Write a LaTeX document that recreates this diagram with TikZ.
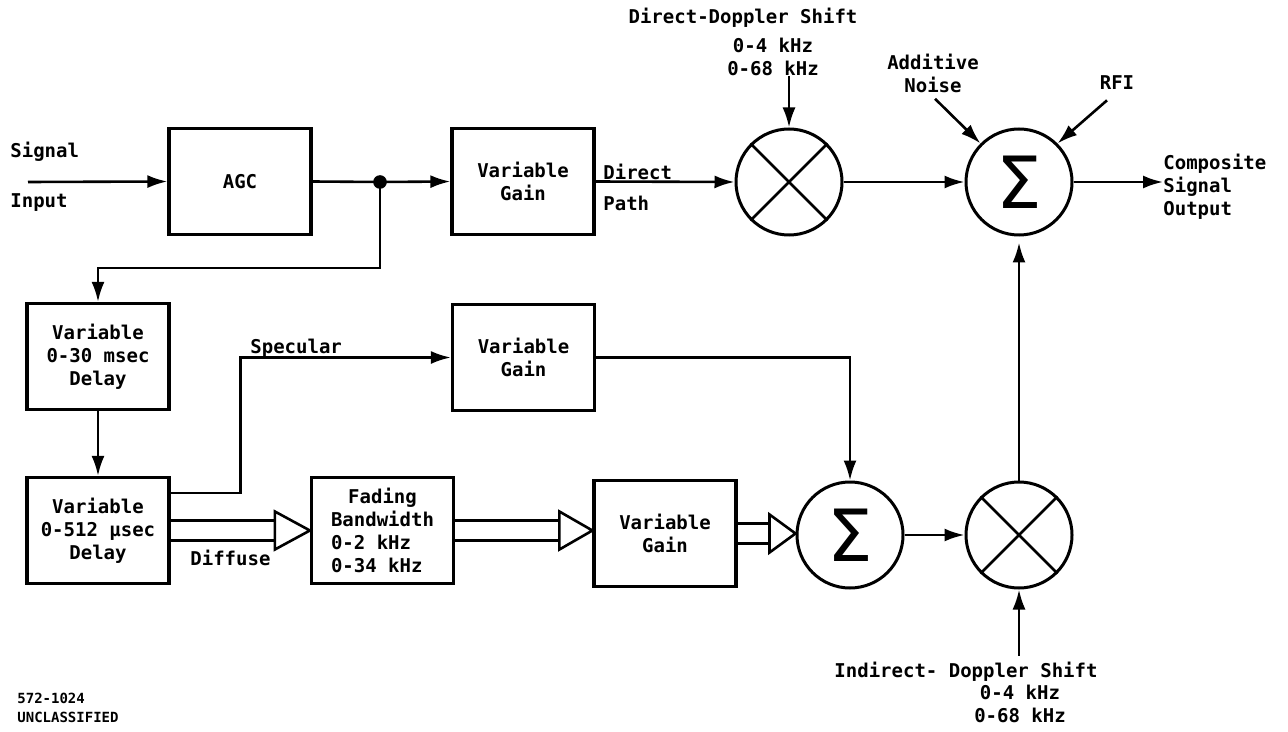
\documentclass[tikz,border=0pt]{standalone}
\usepackage{fontspec}
\usepackage{tikz}
\usetikzlibrary{positioning,arrows.meta,calc}
\newfontfamily\gothic{DejaVu Sans Mono}
\newfontfamily\sumfont{DejaVu Sans}
\newcommand{\lbl}{\gothic\bfseries\fontsize{9.5}{11.5}\selectfont}
\newcommand{\tinylbl}{\gothic\bfseries\fontsize{7}{9.5}\selectfont}
\definecolor{ink}{RGB}{0,0,0}
\tikzset{
  blk/.style={draw=ink, line width=1.6pt, minimum width=71pt, minimum height=53pt,
    align=center, font=\lbl, text=ink, inner sep=2pt},
  opc/.style={circle, draw=ink, line width=1.5pt, minimum size=53pt, inner sep=0pt,
    font=\sumfont\fontsize{36}{36}\selectfont, text=ink},
  sig/.style={-{Latex[length=10pt,width=6.5pt]}, line width=1.3pt, draw=ink},
  wire/.style={line width=1.3pt, draw=ink},
  tag/.style={font=\lbl, align=center, inner sep=0pt, text=ink},
}

\begin{document}
\begin{tikzpicture}[x=0.5pt, y=-0.5pt]
  \useasboundingbox (0,0) rectangle (1288,732);
  % top row
  \node[tag, anchor=west] (sigtxt) at (10,152) {Signal};
  \node[tag, anchor=west] (intxt) at (10,203) {Input};
  \coordinate (sin) at (28,182);
  \node[blk] (agc) at (240,181.5) {AGC};
  \coordinate (tap) at (380,182);
  \node[blk] (vga) at (523,181.5) {Variable\\Gain};
  \node[tag, anchor=west] (dirtxt) at (603,172) {Direct};
  \node[tag, anchor=west] (pathtxt) at (603,203) {Path};
  \node[opc] (mxa) at (789,182) {};
  \node[opc] (sga) at (1019,182) {Σ};
  \node[tag] (dshift) at (743,18) {Direct-Doppler Shift};
  \node[tag] (dfreq) at (773,57) {0-4 kHz\\0-68 kHz};
  \node[tag] (noise) at (933,73) {Additive\\Noise};
  \node[tag] (rfi) at (1117,83) {RFI};
  \node[tag, align=left, anchor=west] (outtxt) at (1163,187) {Composite\\Signal\\Output};
  % delay chain
  \node[blk] (dla) at (98,356.5) {Variable\\0-30 msec\\Delay};
  \node[blk] (dlb) at (98,530.5) {Variable\\0-512 μsec\\Delay};
  \node[blk] (vgb) at (523.5,357.5) {Variable\\Gain};
  \node[tag, anchor=west] (spectxt) at (250,348) {Specular};
  \node[tag, anchor=west] (difftxt) at (190,558) {Diffuse};
  \node[blk] (fad) at (382.5,530.5) {Fading\\Bandwidth\\0-2 kHz\phantom{00}\\0-34 kHz\phantom{0}};
  \node[blk] (vgc) at (665,533.5) {Variable\\Gain};
  \node[opc] (sgb) at (850,535) {Σ};
  \node[opc] (mxb) at (1019,535) {};
  \node[tag] (ishift) at (966,672) {Indirect- Doppler Shift};
  \node[tag] (ifreq) at (1020,704) {0-4 kHz\\0-68 kHz};
  \node[font=\tinylbl, align=left, anchor=west, inner sep=0pt] (docno) at (17,708) {572-1024\\UNCLASSIFIED};

  \foreach \m in {mxa,mxb}
    \draw[wire] (\m.north west) -- (\m.south east) (\m.north east) -- (\m.south west);

  \draw[sig] (sin) -- (agc.west);
  \draw[wire] (agc.east) -- (tap);
  \fill[ink] (tap) circle (3.4pt);
  \draw[sig] (tap) -- (vga.west);
  \draw[sig] (vga.east) -- (mxa.west);
  \draw[sig] (mxa.east) -- (sga.west);
  \draw[sig] (sga.east) -- (sga.east -| outtxt.west);
  \draw[sig] (dfreq.south -| mxa.north) -- (mxa.north);
  \draw[sig] ($(noise.south)+(2,6)$) -- (sga.north west);
  \draw[sig] ($(rfi.south)+(-10,10)$) -- (sga.north east);

  \draw[sig] (tap) |- ($(dla.north)+(0,-34)$) -- (dla.north);
  \draw[sig] (dla.south) -- (dlb.north);
  \draw[sig] ($(dlb.north east)+(0,17)$) -- ++(70,0) |- (vgb.west);
  \draw[sig] (vgb.east) -| (sgb.north);
  \draw[sig] (sgb.east) -- (mxb.west);
  \draw[sig, shorten >=3pt] (mxb.north) -- (sga.south);
  \draw[sig] ($(ishift.north -| mxb.south)+(0,-6)$) -- (mxb.south);

  % double paths with open heads
  \foreach \s/\t/\l in {dlb/fad/35, fad/vgc/33, vgc/sgb/26} {
    \coordinate (hp) at (\s.east -| \t.west);
    \draw[wire] ($(\s.east)+(0,-10)$) -- ($(hp)+(-\l,-10)$)
                ($(\s.east)+(0,10)$) -- ($(hp)+(-\l,10)$);
    \draw[wire, fill=white] ($(hp)+(-\l,-19)$) -- (hp) -- ($(hp)+(-\l,19)$) -- cycle;
  }
\end{tikzpicture}
\end{document}
